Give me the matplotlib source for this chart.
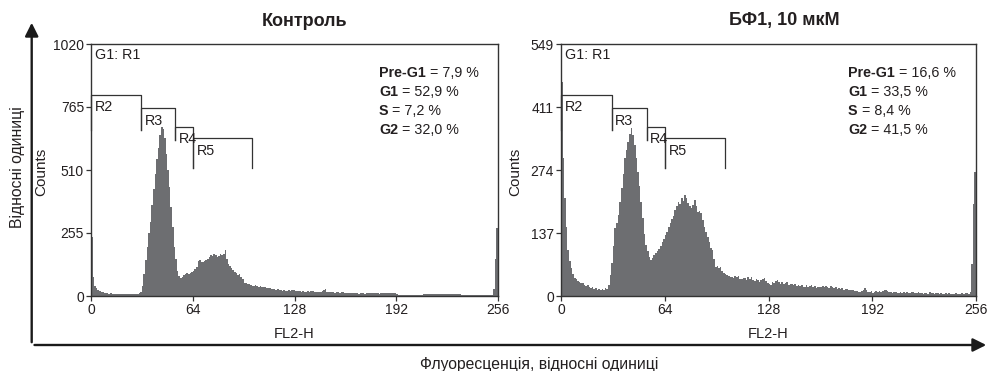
import numpy as np
import matplotlib
matplotlib.use("Agg")
import matplotlib.pyplot as plt
from matplotlib.patches import FancyArrowPatch
from matplotlib.transforms import blended_transform_factory

plt.rcParams['font.family'] = ['Liberation Sans', 'DejaVu Sans']

# -----------------------------
# Data (counts per FL2-H channel, 0..255)
# -----------------------------
control_counts = [
    240, 75, 42, 32, 26, 22, 18, 16, 14, 12, 12, 10, 11, 9, 10, 8,
    9, 8, 8, 9, 7, 8, 7, 9, 8, 7, 9, 8, 10, 9, 12, 16,
    40, 90, 145, 200, 255, 300, 370, 435, 495, 555, 600, 650, 684, 675, 640, 575,
    510, 440, 360, 280, 200, 150, 100, 80, 74, 78, 84, 88, 92, 90, 95, 98,
    102, 108, 118, 140, 146, 138, 136, 140, 145, 150, 158, 166, 162, 170, 164, 158,
    160, 168, 164, 172, 186, 150, 130, 120, 112, 104, 98, 92, 86, 88, 78, 70,
    54, 52, 50, 48, 44, 42, 40, 43, 40, 38, 41, 37, 36, 38, 34, 32,
    34, 30, 28, 30, 26, 28, 24, 25, 22, 24, 21, 22, 23, 20, 25, 23,
    22, 19, 22, 20, 18, 21, 17, 18, 20, 16, 22, 19, 17, 16, 18, 15,
    17, 20, 24, 27, 18, 16, 17, 15, 16, 14, 16, 15, 13, 16, 15, 13,
    14, 12, 13, 11, 12, 14, 11, 12, 10, 13, 11, 12, 10, 11, 13, 12,
    14, 12, 11, 13, 12, 10, 12, 13, 11, 12, 14, 12, 11, 13, 12, 14,
    8, 5, 4, 5, 4, 6, 4, 5, 4, 3, 5, 4, 6, 4, 5, 4,
    6, 8, 7, 9, 8, 7, 9, 8, 10, 8, 7, 9, 8, 9, 7, 8,
    9, 7, 8, 10, 8, 7, 8, 9, 7, 6, 4, 3, 4, 5, 3, 4,
    3, 5, 4, 3, 4, 3, 5, 4, 3, 4, 3, 4, 5, 30, 150, 274,
]

bf1_counts = [
    466, 300, 213, 150, 100, 76, 60, 48, 40, 36, 33, 30, 28, 29, 25, 22,
    24, 20, 18, 19, 16, 17, 14, 15, 13, 16, 14, 17, 16, 24, 45, 72,
    110, 148, 160, 176, 205, 235, 265, 300, 318, 336, 352, 365, 350, 330, 300, 270,
    240, 205, 170, 135, 112, 97, 85, 78, 82, 89, 94, 97, 102, 108, 118, 124,
    132, 140, 150, 158, 168, 174, 187, 196, 205, 200, 213, 208, 220, 214, 202, 196,
    191, 198, 209, 196, 184, 186, 180, 165, 151, 140, 129, 118, 105, 100, 80, 64,
    66, 62, 64, 55, 50, 49, 46, 44, 42, 42, 40, 44, 41, 43, 38, 36,
    40, 39, 35, 41, 37, 42, 34, 33, 37, 35, 31, 34, 36, 39, 33, 28,
    26, 24, 30, 28, 33, 35, 30, 27, 31, 26, 28, 30, 25, 27, 27, 24,
    26, 22, 24, 21, 23, 20, 20, 23, 19, 22, 24, 19, 21, 18, 20, 19,
    20, 21, 19, 22, 20, 18, 21, 20, 17, 19, 16, 17, 15, 17, 14, 16,
    15, 13, 14, 12, 12, 11, 10, 9, 9, 11, 13, 17, 12, 9, 8, 10,
    7, 8, 10, 9, 11, 8, 10, 12, 13, 10, 8, 9, 7, 8, 9, 7,
    7, 8, 6, 9, 7, 8, 6, 7, 9, 8, 6, 7, 8, 6, 7, 5,
    6, 7, 5, 8, 6, 7, 5, 6, 7, 5, 6, 4, 5, 7, 5, 6,
    5, 4, 4, 6, 5, 4, 5, 6, 4, 6, 6, 5, 9, 70, 200, 271,
]

panel_titles = ["Контроль", "БФ1, 10 мкМ"]
y_maxes = [1020, 549]
y_ticks = [[0, 255, 510, 765, 1020], [0, 137, 274, 411, 549]]
x_ticks = [0, 64, 128, 192, 256]

phases = ["Pre-G1", "G1", "S", "G2"]
control_pct = [7.9, 52.9, 7.2, 32.0]
bf1_pct = [16.6, 33.5, 8.4, 41.5]

gate_names = ["R2", "R3", "R4", "R5"]
gate_edges = [(0, 31.4), (31.4, 52.9), (52.9, 64.1), (64.1, 101.4)]

# -----------------------------
# Layout / style
# -----------------------------
W, H = 990, 371
fill_color = "#6d6e71"
line_color = "#333333"
text_color = "#231f20"
fs_tick = 10
fs = 10.3

gate_levels = [0.798, 0.746, 0.671, 0.627]   # axes fraction
gate_lows = [0.659, 0.619, 0.508, 0.508]

fig = plt.figure(figsize=(W / 100, H / 100), dpi=100)

axes_px = [(91, 498), (561, 976)]
top_px, bottom_px = 44, 296


def fx(px):
    return px / W


def fy(py):
    return 1 - py / H


edges = np.arange(len(control_counts) + 1)

for i, (counts, pct) in enumerate([(control_counts, control_pct), (bf1_counts, bf1_pct)]):
    x0, x1 = axes_px[i]
    ax = fig.add_axes([fx(x0), fy(bottom_px), fx(x1 - x0), (bottom_px - top_px) / H])

    ax.stairs(counts, edges, fill=True, color=fill_color, linewidth=0)

    ax.set_xlim(0, 256)
    ax.set_ylim(0, y_maxes[i])
    ax.set_xticks(x_ticks)
    ax.set_yticks(y_ticks[i])
    ax.tick_params(direction="out", length=3.5, width=0.9, colors=line_color,
                   labelcolor=text_color, labelsize=fs_tick, pad=1.5)
    for sp in ax.spines.values():
        sp.set_color(line_color)
        sp.set_linewidth(1.0)

    trans = blended_transform_factory(ax.transData, ax.transAxes)

    # gate markers
    for g, (name, (g0, g1)) in enumerate(zip(gate_names, gate_edges)):
        lvl = gate_levels[g]
        left_low = gate_lows[g - 1] if g > 0 else gate_lows[0]
        ax.plot([g0, g0, g1, g1], [left_low, lvl, lvl, gate_lows[g]],
                color=line_color, linewidth=0.9, transform=trans, clip_on=False)
        ax.annotate(name, xy=(g0, lvl), xycoords=trans, xytext=(2.5, -4),
                    textcoords="offset points", ha="left", va="top",
                    fontsize=fs, color=text_color)

    ax.text(4 / (x1 - x0), 0.956, "G1: R1", transform=ax.transAxes,
            ha="left", va="center", fontsize=fs, color=text_color)

    # phase percentages
    legend_x = [(379 - 91) / 407, (848 - 561) / 415][i]
    for k, (ph, val) in enumerate(zip(phases, pct)):
        ypx = 73 + k * 19
        t = ax.text(legend_x, (bottom_px - ypx) / (bottom_px - top_px), ph,
                    transform=ax.transAxes, ha="left", va="center",
                    fontsize=fs, fontweight="bold", color=text_color)
        ax.annotate(" = " + f"{val:.1f}".replace(".", ",") + " %",
                    xy=(1, 0), xycoords=t, ha="left", va="bottom",
                    fontsize=fs, color=text_color)

    # axis labels
    fig.text(fx([41.5, 515][i]), fy(172), "Counts", rotation=90,
             ha="center", va="center", fontsize=11, color=text_color)
    fig.text(fx((x0 + x1) / 2), fy(334), "FL2-H",
             ha="center", va="center", fontsize=10.5, color=text_color)

    # titles
    fig.text(fx([305, 784][i]), fy(21), panel_titles[i], ha="center", va="center",
             fontsize=13, fontweight="bold", color=text_color)

# outer arrows
fig.add_artist(FancyArrowPatch((fx(31.7), fy(345)), (fx(31.7), fy(20)),
                               transform=fig.transFigure, arrowstyle="-|>",
                               mutation_scale=20, linewidth=1.7, color="#1a1a1a"))
fig.add_artist(FancyArrowPatch((fx(31.7), fy(345)), (fx(989), fy(345)),
                               transform=fig.transFigure, arrowstyle="-|>",
                               mutation_scale=20, linewidth=1.7, color="#1a1a1a"))

fig.text(fx(17.5), fy(167), "Відносні одиниці", rotation=90,
         ha="center", va="center", fontsize=11.3, color=text_color)
fig.text(fx(539), fy(364), "Флуоресценція, відносні одиниці",
         ha="center", va="center", fontsize=11.3, color=text_color)

fig.savefig("out.png", dpi=100)
